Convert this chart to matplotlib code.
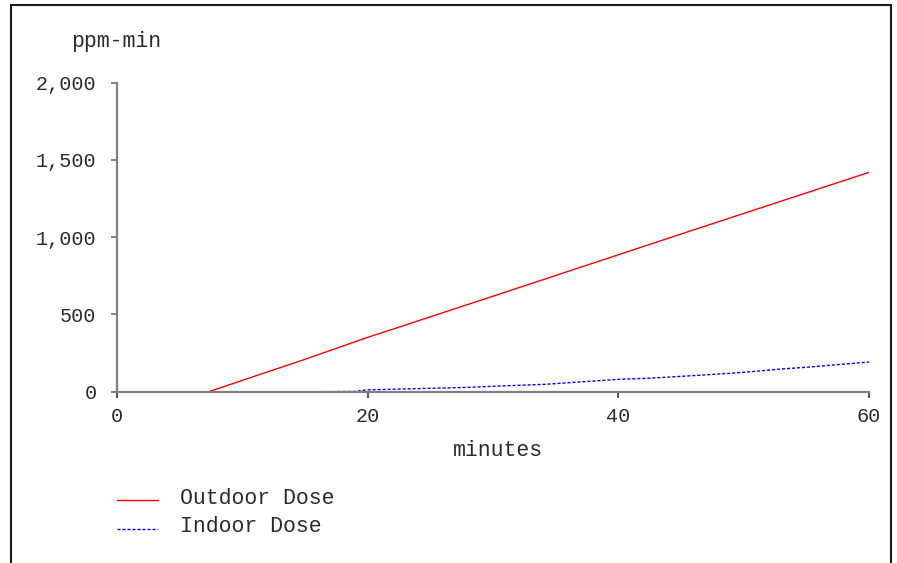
import matplotlib
matplotlib.use("Agg")
import matplotlib.pyplot as plt
from matplotlib.patches import Rectangle
from matplotlib.lines import Line2D
from matplotlib.ticker import FuncFormatter

# Data
outdoor_t = [6.5, 7.3, 10, 15, 20, 22.5, 25, 30, 35, 40, 45, 50, 55, 60]
outdoor_v = [0, 0, 74, 210, 352, 418, 485, 618, 752, 886, 1020, 1153, 1286, 1419]
indoor_t = [14, 16, 19, 20, 25, 28, 30, 34.2, 40, 42.4, 46.4, 50, 53, 55, 60]
indoor_v = [0, 0, 2, 12, 22, 28, 35, 48, 80, 87, 106, 125, 147, 158, 192]
x_ticks = [0, 20, 40, 60]
y_ticks = [0, 500, 1000, 1500, 2000]
series_names = ["Outdoor Dose", "Indoor Dose"]

W, H = 897, 563
fig = plt.figure(figsize=(W / 100, H / 100), dpi=100)
fig.patch.set_facecolor("white")
mono = ["Liberation Mono", "DejaVu Sans Mono"]
fs_tick = 14.5
fs = 15.5
txtc = "#2a2a2a"
axc = "#808080"

left, right, y0, ytop = 117.3, 869, 391.7, 82.5
ax = fig.add_axes([left / W, 1 - y0 / H, (right - left) / W, (y0 - ytop) / H])
ax.plot(outdoor_t, outdoor_v, color="#ff0000", lw=1.0)
ax.plot(indoor_t, indoor_v, color="#0000ff", lw=1.0, dashes=(2.2, 1.4))
ax.set_xlim(0, 60)
ax.set_ylim(0, 2000)
ax.set_xticks(x_ticks)
ax.set_yticks(y_ticks)
ax.yaxis.set_major_formatter(FuncFormatter(lambda v, p: f"{int(v):,}"))
for s in ["top", "right"]:
    ax.spines[s].set_visible(False)
for s in ["left", "bottom"]:
    ax.spines[s].set_color(axc)
    ax.spines[s].set_linewidth(1.6)
ax.tick_params(axis="y", direction="out", length=4, width=1.4, color=axc,
               pad=11, labelsize=fs_tick, labelcolor=txtc)
ax.tick_params(axis="x", direction="out", length=4, width=1.2, color="#333333",
               pad=7, labelsize=fs_tick, labelcolor=txtc)
for lab in ax.get_xticklabels() + ax.get_yticklabels():
    lab.set_family(mono)
ax.set_facecolor("white")
ax.patch.set_alpha(0)

fig.text(116 / W, 1 - 42 / H, "ppm-min", ha="center", va="center",
         family=mono, fontsize=fs, color=txtc)
fig.text(498 / W, 1 - 451 / H, "minutes", ha="center", va="center",
         family=mono, fontsize=fs, color=txtc)

# Legend
fig.add_artist(Line2D([117 / W, 158 / W], [1 - 500 / H, 1 - 500 / H],
                      color="#ff0000", lw=1.0))
fig.add_artist(Line2D([117 / W, 158 / W], [1 - 529 / H, 1 - 529 / H],
                      color="#0000ff", lw=1.0, dashes=(2.2, 1.4)))
fig.text(180 / W, 1 - 498 / H, series_names[0], ha="left", va="center",
         family=mono, fontsize=fs, color=txtc)
fig.text(180 / W, 1 - 527 / H, series_names[1], ha="left", va="center",
         family=mono, fontsize=fs, color=txtc)

# Outer frame
fig.add_artist(Rectangle((11 / W, -0.05), (891 - 11) / W, 1.05 - 5 / H,
                         transform=fig.transFigure, fill=False,
                         edgecolor="#1a1a1a", lw=1.5))

fig.savefig("out.png", dpi=100, facecolor="white")
